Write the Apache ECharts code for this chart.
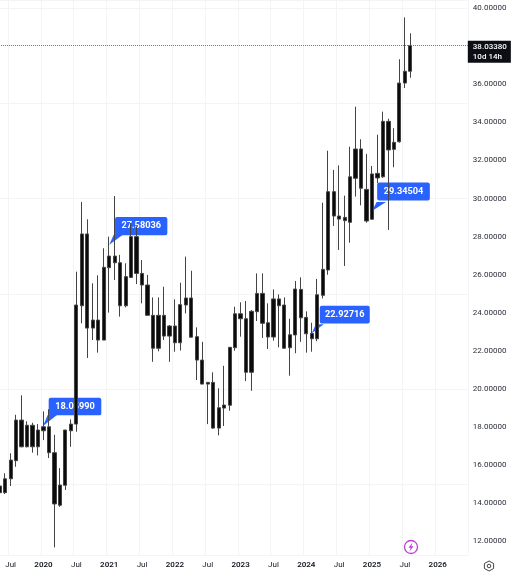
<!DOCTYPE html>
<html><head><meta charset="utf-8">
<style>html,body{margin:0;padding:0;background:#fff}#c{width:511px;height:576px}</style>
<script src="https://cdn.jsdelivr.net/npm/echarts@6/dist/echarts.min.js"></script>
</head><body><div id="c"></div>
<script>
const categories = [
'2019-05','2019-06','2019-07','2019-08','2019-09','2019-10','2019-11','2019-12',
'2020-01','2020-02','2020-03','2020-04','2020-05','2020-06','2020-07','2020-08','2020-09','2020-10','2020-11','2020-12',
'2021-01','2021-02','2021-03','2021-04','2021-05','2021-06','2021-07','2021-08','2021-09','2021-10','2021-11','2021-12',
'2022-01','2022-02','2022-03','2022-04','2022-05','2022-06','2022-07','2022-08','2022-09','2022-10','2022-11','2022-12',
'2023-01','2023-02','2023-03','2023-04','2023-05','2023-06','2023-07','2023-08','2023-09','2023-10','2023-11','2023-12',
'2024-01','2024-02','2024-03','2024-04','2024-05','2024-06','2024-07','2024-08','2024-09','2024-10','2024-11','2024-12',
'2025-01','2025-02','2025-03','2025-04','2025-05','2025-06','2025-07','2025-08','2025-09','2025-10','2025-11','2025-12',
'2026-01','2026-02','2026-03','2026-04','2026-05','2026-06'];
const bodyTop = [
14.91,15.29,16.27,18.37,18.37,18.10,18.10,17.85,
18.02,18.02,16.66,14.96,17.85,18.16,24.41,28.14,28.14,23.62,23.62,26.39,
26.98,26.98,26.63,25.90,28.00,28.00,26.07,25.46,23.87,23.87,23.87,23.31,
23.31,24.43,24.78,24.78,22.75,21.52,20.35,20.35,19.02,19.16,22.19,23.95,
23.95,23.69,24.08,25.02,25.02,23.48,24.73,24.73,24.41,22.85,25.25,25.23,
23.76,22.92,24.95,26.28,30.36,30.36,29.08,29.01,31.14,32.60,32.60,30.48,
31.29,31.32,34.05,34.05,32.95,36.06,36.68,38.0338];
const bodyBottom = [
14.56,14.56,15.29,16.24,16.97,16.97,16.97,16.97,
17.81,16.66,13.97,13.90,14.95,17.81,18.16,24.37,23.20,23.20,22.57,22.57,
26.37,26.63,24.37,24.37,25.86,26.07,25.46,23.87,22.14,22.14,22.78,22.78,
22.43,22.43,24.41,22.72,21.52,20.26,20.26,17.95,17.95,19.00,19.15,22.17,
23.69,20.88,20.88,24.06,23.45,22.73,22.73,24.37,22.14,22.17,22.84,23.74,
22.90,22.64,22.64,24.92,26.25,29.08,28.92,28.84,28.75,31.06,30.54,28.82,
28.91,31.08,31.14,32.55,32.58,32.98,36.06,36.68];
const wickHigh = [
15.12,15.58,16.63,18.65,19.67,18.31,18.23,18.16,
18.83,18.94,17.60,15.85,17.85,18.41,26.16,29.82,28.91,25.55,25.97,27.39,
28.00,30.13,27.04,26.60,28.71,28.52,26.77,25.99,24.81,24.81,25.37,23.36,
24.71,25.58,26.95,26.21,23.24,22.48,20.35,20.88,20.04,21.22,22.19,24.32,
24.55,24.62,24.15,26.07,26.07,24.50,25.23,24.97,24.81,23.69,25.67,25.86,
24.08,23.48,25.78,29.78,32.51,31.50,31.74,30.15,32.72,34.82,33.11,32.34,
31.71,33.35,34.56,34.19,33.69,37.31,39.51,38.67];
const wickLow = [
14.49,14.49,14.91,15.92,16.94,16.94,16.66,16.52,
17.32,16.38,11.69,13.82,14.70,16.97,17.76,23.45,21.63,22.57,21.91,22.57,
24.01,25.72,23.80,24.29,25.86,25.51,24.50,23.87,21.43,21.98,22.57,21.43,
21.96,22.02,23.97,22.72,20.47,20.26,18.16,17.92,17.57,18.06,18.86,22.01,
22.75,20.42,19.91,23.57,22.68,22.10,22.54,22.19,22.14,20.70,21.88,22.48,
21.91,21.96,22.51,24.76,26.00,28.56,27.30,26.46,27.68,30.10,29.64,28.73,
28.91,30.81,31.08,28.35,31.64,32.93,35.80,36.34];
const priceTicks = [12,14,16,18,20,22,24,26,28,30,32,34,36,38,40];
const lastPrice = 38.0338;
const lastLabel = ['38.03380','10d 14h'];
const calloutMonths = ['2020-01','2021-01','2024-02','2025-01'];
const calloutValues = [18.06,27.58036,22.92716,29.34504];
const calloutTexts = ['18.05990','27.58036','22.92716','29.34504'];

const BLUE = '#2962ff', GRID = '#f3f4f6', TXT = '#131722';
const candles = bodyTop.map((t,i)=>[bodyBottom[i],t,wickLow[i],wickHigh[i]]);
const keep = (i)=>{const m=categories[i].slice(5);return m==='01'||m==='07';};

const bubbleOffsets=[[31.5,-19.4],[32,-18.6],[33,-18.7],[31.5,-19.5]];
const bubbleSizes=[[52.6,17.5],[52.3,18.3],[50,17.6],[52.7,18]];
const tailOffsets=[[6.5,-5.5],[7.5,-5.5],[6,-4.5],[7,-4.5]];
const tailSizes=[[14,11],[15,11],[12,9],[14,9]];
const roundBox='path://M2 0H50a2 2 0 0 1 2 2V16a2 2 0 0 1-2 2H2a2 2 0 0 1-2-2V2a2 2 0 0 1 2-2Z';
const bubbles=calloutMonths.map((m,i)=>({coord:[m,calloutValues[i]],value:calloutTexts[i],
  symbol:roundBox,symbolKeepAspect:false,symbolSize:bubbleSizes[i],symbolOffset:bubbleOffsets[i],
  label:{show:true,position:'inside',formatter:calloutTexts[i]}}));
const tails=calloutMonths.map((m,i)=>({coord:[m,calloutValues[i]],
  symbol:'path://M0 12 L5 0 L15 0 Z',symbolKeepAspect:false,symbolSize:tailSizes[i],symbolOffset:tailOffsets[i],
  label:{show:false}}));

const chart=echarts.init(document.getElementById('c'),null,{renderer:'canvas'});
chart.setOption({
  animation:false,
  backgroundColor:'#fff',
  textStyle:{fontFamily:'Roboto'},
  grid:{left:-3.04,top:0,width:470.85,height:555,containLabel:false,outerBoundsMode:'none'},
  xAxis:{type:'category',data:categories,boundaryGap:true,
    axisLine:{show:false},
    axisTick:{show:false,alignWithLabel:true,interval:keep},
    axisLabel:{interval:keep,color:TXT,fontSize:8,margin:6,
      formatter:v=>v.slice(5)==='07'?'Jul':'{y|'+v.slice(0,4)+'}',
      rich:{y:{fontSize:8,fontWeight:600,color:TXT}}},
    splitLine:{show:true,interval:keep,lineStyle:{color:GRID,width:1}}},
  yAxis:{type:'value',position:'right',min:11.29,max:40.42,scale:true,
    axisLine:{show:false},axisTick:{show:false},
    axisLabel:{customValues:priceTicks,color:'#2a2e39',fontSize:8,margin:5,align:'left',formatter:v=>v.toFixed(5)},
    splitLine:{show:true,customValues:priceTicks,lineStyle:{color:GRID,width:1}}},
  series:[
   {type:'line',data:[],z:1,silent:true,
    markPoint:{z:1,silent:true,itemStyle:{color:BLUE},
      label:{color:'#fff',fontSize:9.2,fontWeight:'bold',fontFamily:'Roboto'},
      data:[...tails,...bubbles]}},
   {type:'candlestick',data:candles,z:2,barWidth:3.7,silent:true,
    itemStyle:{color:'#0b0b0b',color0:'#0b0b0b',borderColor:'#444',borderColor0:'#444',borderWidth:1},
    markLine:{z:3,silent:true,symbol:'none',animation:false,
      lineStyle:{type:'dotted',color:'#777',width:1},
      label:{show:true,position:'end',formatter:lastLabel.join('\n'),color:'#fff',backgroundColor:'#0c0e15',
        fontSize:8,fontWeight:500,lineHeight:10,padding:[1,4,1,5],align:'left',offset:[-5,6.3]},
      data:[{yAxis:lastPrice}]}}
  ],
  graphic:[
   {type:'circle',shape:{cx:411,cy:547,r:6.5},style:{fill:'#fff',stroke:'#c23fd6',lineWidth:1.3},z:50},
   {type:'polygon',shape:{points:[[412.5,542.5],[408.5,547.8],[410.7,547.8],[409.5,551.5],[413.5,546.2],[411.3,546.2]]},style:{fill:'#c23fd6'},z:51},
   {type:'polygon',shape:{points:[[489,561],[493.6,563.5],[493.6,568.5],[489,571],[484.4,568.5],[484.4,563.5]]},style:{fill:'none',stroke:'#444',lineWidth:1},z:51},
   {type:'circle',shape:{cx:489,cy:566,r:1.8},style:{fill:'none',stroke:'#444',lineWidth:1},z:51}
  ]
});
</script></body></html>
